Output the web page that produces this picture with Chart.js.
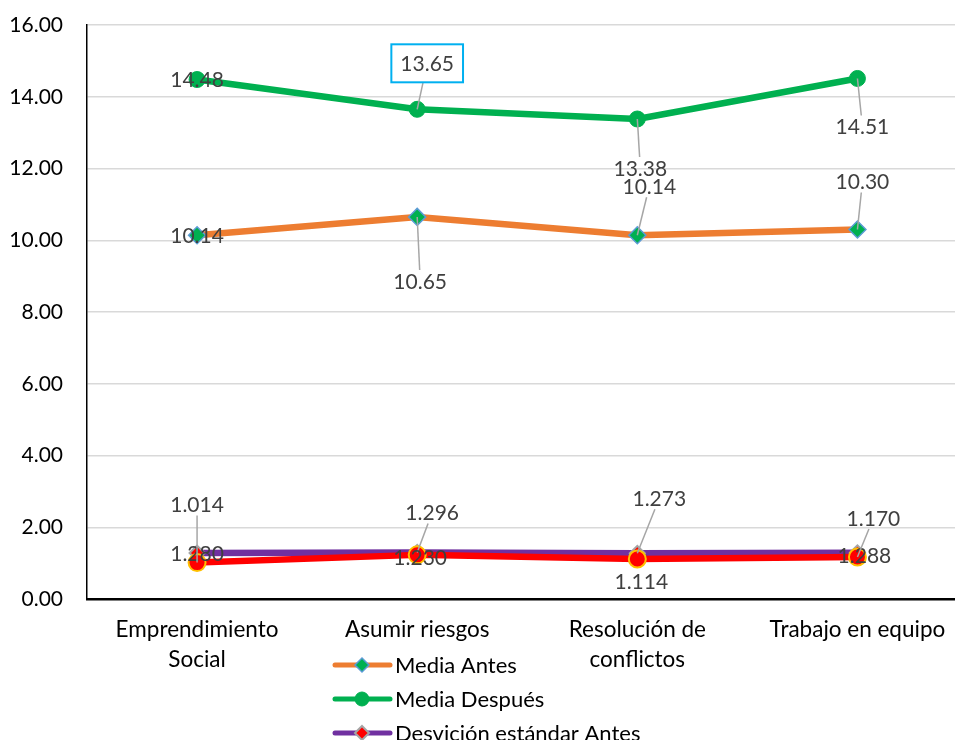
<!DOCTYPE html>
<html>
<head>
<meta charset="utf-8">
<script src="https://cdn.jsdelivr.net/npm/chart.js@4"></script>
<style>
  html, body { margin: 0; padding: 0; overflow: hidden; background: #fff; }
  canvas { display: block; }
</style>
</head>
<body>
<canvas id="chart" width="978" height="740"></canvas>
<script>
const categories = [['Emprendimiento', 'Social'], 'Asumir riesgos', ['Resolución de', 'conflictos'], 'Trabajo en equipo'];
const mediaAntes = [10.14, 10.65, 10.14, 10.30];
const mediaDespues = [14.48, 13.65, 13.38, 14.51];
const desvAntes = [1.280, 1.296, 1.273, 1.288];
const desvDespues = [1.014, 1.230, 1.114, 1.170];
const yMin = 0, yMax = 16, yStep = 2;

// label placement (px offset from the point), one row per series
const labelOffsets = [
  [[0, 0], [3, 64], [12, -49], [5, -48]],
  [[0, 0], [10, -46], [3, 49], [5, 48]],
  [[0, 0], [15, -40], [22, -55], [7, 2]],
  [[0, -58], [3, 2], [4, 22], [16, -39]]
];
const boxedLabel = { ds: 1, idx: 1 };

const FONT = 'Lato';

const dataLabels = {
  id: 'dataLabels',
  afterDatasetsDraw(chart) {
    const ctx = chart.ctx;
    ctx.save();
    ctx.font = '21px ' + FONT;
    ctx.textAlign = 'center';
    ctx.textBaseline = 'middle';
    chart.data.datasets.forEach((ds, i) => {
      const meta = chart.getDatasetMeta(i);
      meta.data.forEach((pt, j) => {
        const txt = ds.data[j].toFixed(ds.decimals);
        const [dx, dy] = labelOffsets[i][j];
        const cx = pt.x + dx, cy = pt.y + dy;
        const w = ctx.measureText(txt).width;
        const boxed = boxedLabel.ds === i && boxedLabel.idx === j;
        const hw = boxed ? w / 2 + 9 : w / 2 + 2;
        const hh = boxed ? 19 : 11;
        if (Math.hypot(dx, dy) > 25) {
          // leader line from label edge to the point
          const t = Math.min(hw / Math.abs(dx || 1e-6), hh / Math.abs(dy || 1e-6));
          ctx.strokeStyle = '#a6a6a6';
          ctx.lineWidth = 1.5;
          ctx.beginPath();
          ctx.moveTo(cx - dx * t, cy - dy * t);
          ctx.lineTo(pt.x, pt.y);
          ctx.stroke();
        }
        if (boxed) {
          ctx.fillStyle = '#fff';
          ctx.fillRect(cx - hw, cy - hh, hw * 2, hh * 2);
          ctx.strokeStyle = '#00b0f0';
          ctx.lineWidth = 2;
          ctx.strokeRect(cx - hw, cy - hh, hw * 2, hh * 2);
        }
        ctx.fillStyle = '#404040';
        ctx.fillText(txt, cx, cy + 1);
      });
    });
    ctx.restore();
  }
};

const bottomLegend = {
  id: 'bottomLegend',
  afterDraw(chart) {
    const ctx = chart.ctx;
    const x0 = 333, y0 = chart.chartArea.bottom + 66, gap = 34;
    ctx.save();
    ctx.font = '22px ' + FONT;
    ctx.textBaseline = 'middle';
    ctx.textAlign = 'left';
    chart.data.datasets.forEach((ds, i) => {
      const y = y0 + i * gap;
      ctx.strokeStyle = ds.borderColor;
      ctx.lineWidth = 5;
      ctx.lineCap = 'round';
      ctx.beginPath();
      ctx.moveTo(x0 + 2, y);
      ctx.lineTo(x0 + 57, y);
      ctx.stroke();
      ctx.fillStyle = ds.pointBackgroundColor;
      ctx.strokeStyle = ds.pointBorderColor;
      ctx.lineWidth = ds.pointBorderWidth;
      Chart.helpers.drawPoint(ctx, { pointStyle: ds.pointStyle, radius: 7, borderWidth: ds.pointBorderWidth, rotation: 0 }, x0 + 29, y);
      ctx.fillStyle = '#000';
      ctx.fillText(ds.label, x0 + 62, y + 1);
    });
    ctx.restore();
  }
};

new Chart(document.getElementById('chart'), {
  type: 'line',
  data: {
    labels: categories,
    datasets: [
      {
        label: 'Media Antes', data: mediaAntes, decimals: 2, order: 4,
        borderColor: '#ed7d31', borderWidth: 6.5,
        pointStyle: 'rectRot', pointRadius: 8.5, pointBackgroundColor: '#00b050',
        pointBorderColor: '#5b9bd5', pointBorderWidth: 1.5
      },
      {
        label: 'Media Después', data: mediaDespues, decimals: 2, order: 3,
        borderColor: '#00b050', borderWidth: 6.5,
        pointStyle: 'circle', pointRadius: 8, pointBackgroundColor: '#00b050',
        pointBorderColor: '#00b050', pointBorderWidth: 1
      },
      {
        label: 'Desvición estándar Antes', data: desvAntes, decimals: 3, order: 2,
        borderColor: '#7030a0', borderWidth: 6.5,
        pointStyle: 'rectRot', pointRadius: 7.5, pointBackgroundColor: '#ff0000',
        pointBorderColor: '#a5a5a5', pointBorderWidth: 2
      },
      {
        label: 'Desvición estándar Después', data: desvDespues, decimals: 3, order: 1,
        borderColor: '#ff0000', borderWidth: 6.5,
        pointStyle: 'circle', pointRadius: 8.5, pointBackgroundColor: '#ff0000',
        pointBorderColor: '#ffc000', pointBorderWidth: 2
      }
    ]
  },
  options: {
    responsive: false,
    animation: false,
    layout: { padding: { top: 25, right: 2, bottom: 0, left: 0 } },
    elements: { line: { tension: 0, borderCapStyle: 'round', borderJoinStyle: 'round' } },
    plugins: { legend: { display: false }, tooltip: { enabled: false } },
    scales: {
      x: {
        offset: true,
        grid: { display: false, drawTicks: false },
        border: { color: '#000', width: 2.5 },
        ticks: {
          color: '#000', padding: 16, maxRotation: 0, autoSkip: false,
          font: { family: FONT, size: 22.5, lineHeight: 1.33 }
        },
        afterFit(scale) {
          scale.height = 141;
          scale.paddingLeft = 0;
          scale.paddingRight = 0;
        }
      },
      y: {
        min: yMin, max: yMax,
        grid: { color: '#d9d9d9', lineWidth: 1.5, drawTicks: false },
        border: { color: '#000', width: 1.5 },
        ticks: {
          stepSize: yStep, color: '#000', padding: 24,
          font: { family: FONT, size: 21 },
          callback: v => v.toFixed(2)
        },
        afterFit(scale) {
          scale.width = 87;
          scale.paddingTop = 0;
          scale.paddingBottom = 0;
        }
      }
    }
  },
  plugins: [dataLabels, bottomLegend]
});
</script>
</body>
</html>
